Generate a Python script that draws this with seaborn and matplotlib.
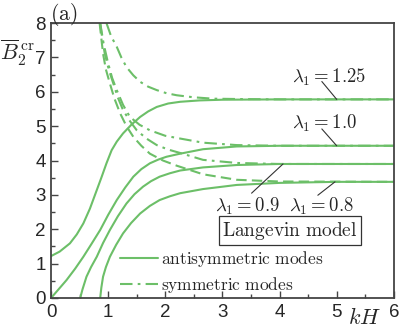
import matplotlib
matplotlib.use('Agg')
import matplotlib.pyplot as plt
import seaborn as sns
import pandas as pd
from matplotlib.lines import Line2D

# lambda_1 values, one antisymmetric and one symmetric curve each
lambdas = ['1.25', '1.0', '0.9', '0.8']

# antisymmetric modes (solid)
anti_x_125 = [0, 0.15, 0.33, 0.45, 0.565, 0.68, 0.8, 0.88, 0.97, 1.06, 1.15, 1.26, 1.41, 1.56,
              1.7, 1.85, 2.05, 2.26, 2.6, 3.0, 4.0, 6.0]
anti_y_125 = [1.22, 1.35, 1.59, 1.85, 2.17, 2.6, 3.14, 3.5, 3.92, 4.3, 4.55, 4.79, 5.05, 5.27,
              5.43, 5.56, 5.66, 5.71, 5.75, 5.77, 5.78, 5.78]
anti_x_100 = [0, 0.13, 0.27, 0.42, 0.565, 0.71, 0.86, 1.0, 1.15, 1.3, 1.44, 1.58, 1.73, 1.88,
              2.02, 2.26, 2.66, 3.25, 4.0, 6.0]
anti_y_100 = [0, 0.25, 0.52, 0.85, 1.2, 1.58, 1.98, 2.42, 2.85, 3.22, 3.53, 3.75, 3.92, 4.03,
              4.11, 4.2, 4.33, 4.41, 4.43, 4.43]
anti_x_090 = [0.51, 0.55, 0.62, 0.7, 0.8, 0.91, 1.03, 1.17, 1.32, 1.46, 1.61, 1.75, 1.9, 2.08,
              2.26, 2.66, 3.25, 4.0, 6.0]
anti_y_090 = [0, 0.25, 0.62, 0.9, 1.2, 1.6, 1.98, 2.38, 2.75, 3.02, 3.24, 3.4, 3.53, 3.63,
              3.71, 3.8, 3.87, 3.9, 3.9]
anti_x_080 = [0.86, 0.88, 0.91, 0.96, 1.03, 1.14, 1.26, 1.4, 1.56, 1.73, 1.9, 2.08, 2.26, 2.66,
              3.25, 4.0, 5.0, 6.0]
anti_y_080 = [0, 0.3, 0.62, 0.9, 1.2, 1.55, 1.88, 2.18, 2.46, 2.68, 2.85, 2.96, 3.05, 3.17,
              3.29, 3.35, 3.38, 3.38]

# symmetric modes (dash-dot, the 0.8 one dashed)
sym_x_125 = [0.97, 1.05, 1.15, 1.23, 1.32, 1.44, 1.56, 1.7, 1.85, 2.02, 2.2, 2.5, 2.84, 3.3, 4.0, 6.0]
sym_y_125 = [8.0, 7.62, 7.31, 7.0, 6.72, 6.48, 6.29, 6.15, 6.05, 5.96, 5.9, 5.84, 5.8, 5.79, 5.78, 5.78]
sym_x_100 = [0.86, 0.92, 1.0, 1.07, 1.15, 1.26, 1.38, 1.55, 1.73, 2.0, 2.26, 2.66, 3.25, 4.0, 6.0]
sym_y_100 = [8.0, 7.4, 6.82, 6.4, 6.05, 5.62, 5.27, 5.04, 4.88, 4.72, 4.64, 4.52, 4.45, 4.43, 4.43]
sym_x_090 = [0.86, 0.9, 0.94, 1.01, 1.09, 1.17, 1.26, 1.38, 1.5, 1.67, 1.85, 2.05, 2.26, 2.66,
             3.25, 4.0, 6.0]
sym_y_090 = [8.0, 7.5, 7.11, 6.65, 6.24, 5.83, 5.47, 5.15, 4.88, 4.64, 4.45, 4.32, 4.22, 4.02,
             3.93, 3.9, 3.9]
sym_x_080 = [0.85, 0.88, 0.91, 0.96, 1.03, 1.11, 1.21, 1.32, 1.44, 1.58, 1.73, 1.96, 2.2, 2.66,
             3.25, 4.0, 6.0]
sym_y_080 = [8.0, 7.55, 7.11, 6.65, 6.24, 5.8, 5.37, 5.0, 4.69, 4.43, 4.2, 4.0, 3.85, 3.6,
             3.44, 3.39, 3.38]

anti = [(anti_x_125, anti_y_125), (anti_x_100, anti_y_100),
        (anti_x_090, anti_y_090), (anti_x_080, anti_y_080)]
sym = [(sym_x_125, sym_y_125), (sym_x_100, sym_y_100),
       (sym_x_090, sym_y_090), (sym_x_080, sym_y_080)]

GREEN = '#6cbf68'
LW = 1.5
DASHDOT = (6, 2.5, 1.3, 2.5)
DASHED = (5, 2.5)

sns.set_style('ticks')
plt.rcParams['font.family'] = ['Liberation Sans', 'DejaVu Sans']
plt.rcParams['mathtext.fontset'] = 'cm'

fig = plt.figure(figsize=(3.99, 3.30), dpi=100)
ax = fig.add_axes([0.128, 0.097, 0.859, 0.833])

for lam, (xs, ys) in zip(lambdas, anti):
    df = pd.DataFrame({'kH': xs, 'B': ys})
    sns.lineplot(data=df, x='kH', y='B', ax=ax, color=GREEN, lw=LW, sort=False)

for lam, (xs, ys) in zip(lambdas, sym):
    df = pd.DataFrame({'kH': xs, 'B': ys})
    sns.lineplot(data=df, x='kH', y='B', ax=ax, color=GREEN, lw=LW, sort=False)
    ax.lines[-1].set_dashes(DASHED if lam == '0.8' else DASHDOT)

ax.set_xlim(0, 6)
ax.set_ylim(0, 8)
ax.set_xticks(range(0, 7))
ax.set_yticks(range(0, 9))
ax.set_xticks([i + 0.5 for i in range(6)], minor=True)
ax.set_yticks([i + 0.5 for i in range(8)], minor=True)
ax.tick_params(which='major', direction='in', length=5, width=1, labelsize=13.5,
               color='#444444', top=False, right=False, pad=4)
ax.tick_params(which='minor', direction='in', length=3, width=1, color='#444444',
               top=False, right=False)
for s in ax.spines.values():
    s.set_visible(True)
    s.set_linewidth(1.3)
    s.set_color('#444444')
ax.set_xlabel('')
ax.set_ylabel('')

# axis labels placed like the original figure
fig.text(0.0, 0.84, r'$\overline{B}_2^{\,\mathrm{cr}}$', fontsize=16, ha='left', va='center')
fig.text(0.915, 0.036, r'$kH$', fontsize=16, ha='center', va='center')
fig.text(0.125, 0.998, r'$\mathrm{(a)}$', fontsize=15.5, ha='left', va='top')

# lambda labels with leader lines
labels = [(r'$\lambda_1 = 1.25$', (4.86, 6.42), (4.74, 6.3), (5.0, 5.78)),
          (r'$\lambda_1 = 1.0$', (4.79, 5.08), (4.74, 4.92), (5.0, 4.43)),
          (r'$\lambda_1 = 0.9$', (3.43, 2.66), (3.51, 3.05), (4.06, 3.9)),
          (r'$\lambda_1 = 0.8$', (4.73, 2.66), (4.67, 2.99), (4.97, 3.38))]
for txt, tpos, p0, p1 in labels:
    ax.text(tpos[0], tpos[1], txt, fontsize=13.5, ha='center', va='center')
    ax.plot([p0[0], p1[0]], [p0[1], p1[1]], color='#333333', lw=0.8)

ax.text(4.18, 1.95, r'$\mathrm{Langevin\ model}$', fontsize=14, ha='center', va='center',
        bbox=dict(boxstyle='square,pad=0.18', fc='white', ec='#333333', lw=0.9))

handles = [Line2D([], [], color=GREEN, lw=LW),
           Line2D([], [], color=GREEN, lw=LW, dashes=DASHDOT)]
ax.legend(handles, [r'$\mathrm{antisymmetric\ modes}$', r'$\mathrm{symmetric\ modes}$'],
          loc='lower left', bbox_to_anchor=(0.201, 0.01), frameon=False, fontsize=12.5,
          handlelength=2.2, handletextpad=0.15, labelspacing=0.35, borderpad=0,
          borderaxespad=0)

fig.savefig('out.png', dpi=100)
